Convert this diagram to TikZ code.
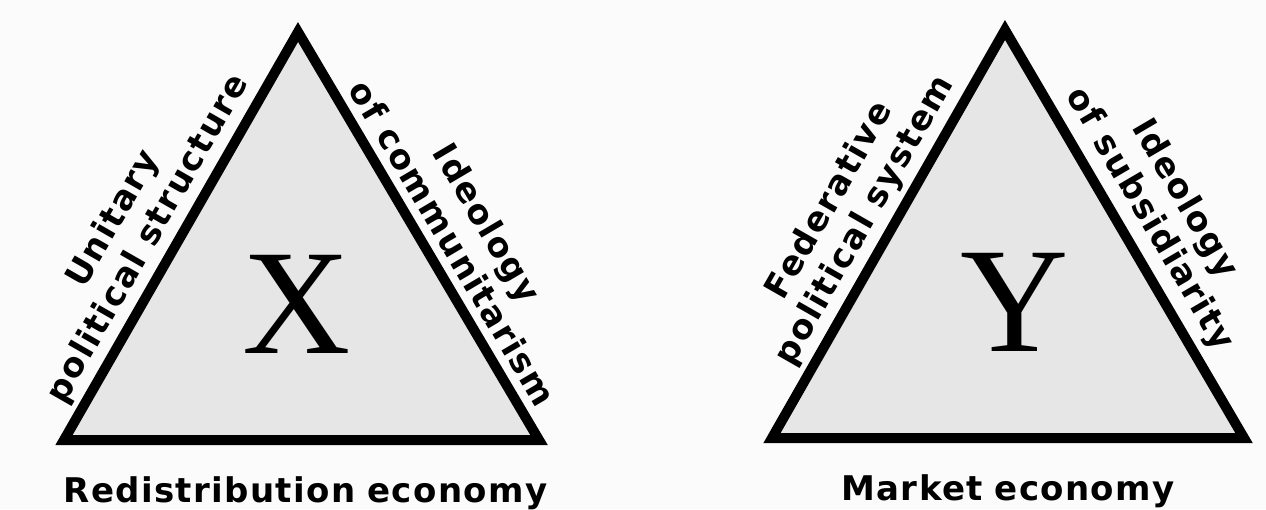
\documentclass[tikz,border=0pt]{standalone}
\usepackage{fontspec}
\setmainfont{Liberation Serif}
\setsansfont{DejaVu Sans}
\usepackage{tikz}
\usetikzlibrary{calc, positioning}
\definecolor{TriFill}{HTML}{E6E6E6}
\definecolor{PaperWhite}{HTML}{FBFBFB}
\tikzset{
  trishape/.style={draw=black, fill=TriFill, line width=10pt, line join=miter},
  sidelabel/.style={sloped, above=10pt, inner sep=0pt, align=center, font=\sffamily\bfseries\fontsize{34}{40}\selectfont\addfontfeature{LetterSpace=5}},
  baselabel/.style={midway, anchor=base, yshift=-62pt, inner sep=0pt, font=\sffamily\bfseries\fontsize{34}{40}\selectfont\addfontfeature{LetterSpace=4}},
  bigletter/.style={inner sep=0pt, font=\rmfamily\fontsize{150}{150}\selectfont}
}

\begin{document}
\begin{tikzpicture}[x=1pt, y=1pt]
  \path[use as bounding box, fill=PaperWhite] (0,0) rectangle (1266,509);

  % triangle X
  \coordinate (xA) at (298,477);
  \coordinate (xL) at (64,69);
  \coordinate (xR) at (539,69);
  \draw[trishape] (xA) -- (xR) -- (xL) -- cycle;
  \node[bigletter] (xmark) at ($(barycentric cs:xA=1,xL=1,xR=1)+(-4,0)$) {X};
  \path (xL) -- (xA) node[sidelabel, pos=0.46] (xpol) {Unitary\\political structure};
  \path (xA) -- (xR) node[sidelabel, pos=0.55, above=13pt] (xide) {Ideology\\of communitarism};
  \path (xL) -- (xR) node[baselabel, xshift=4pt] (xeco) {Redistribution\hspace{0.35em}economy};

  % triangle Y
  \coordinate (yA) at (1005,479);
  \coordinate (yL) at (772,71);
  \coordinate (yR) at (1244,71);
  \draw[trishape] (yA) -- (yR) -- (yL) -- cycle;
  \node[bigletter] (ymark) at ($(barycentric cs:yA=1,yL=1,yR=1)+(8,0)$) {Y};
  \path (yL) -- (yA) node[sidelabel, pos=0.5] (ypol) {Federative\\political system};
  \path (yA) -- (yR) node[sidelabel, pos=0.5, above=12pt] (yide) {Ideology\\of subsidiarity};
  \path (yL) -- (yR) node[baselabel] (yeco) {Market\hspace{0.35em}economy};
\end{tikzpicture}
\end{document}
